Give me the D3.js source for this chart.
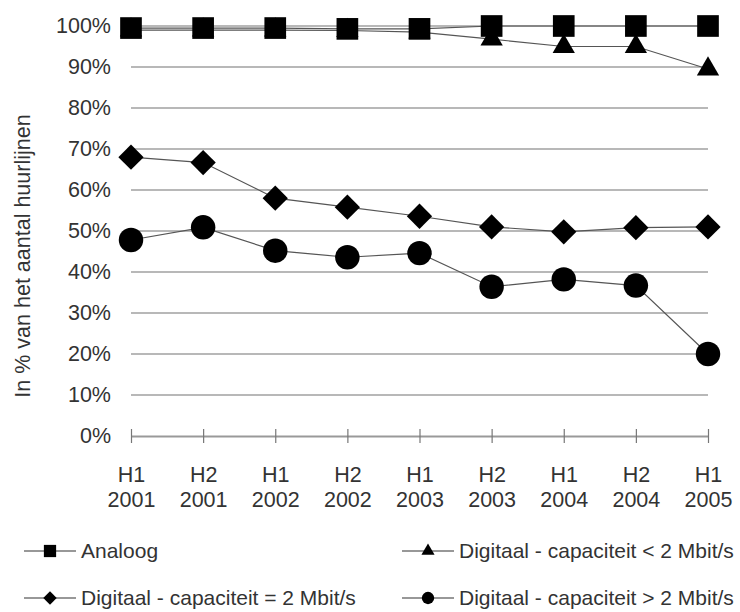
<!DOCTYPE html>
<html>
<head>
  <meta charset="utf-8">
  <title>Huurlijnen</title>
  <style>
    body { margin: 0; background: #fff; }
    text { font-family: "Liberation Sans", Arial, sans-serif; fill: #333; }
  </style>
</head>
<body>
  <div id="chart"></div>

  <script src="https://cdn.jsdelivr.net/npm/d3@7"></script>
  <script>
    // periods on the x axis (two text lines each)
    const periods = ['H1 2001', 'H2 2001', 'H1 2002', 'H2 2002', 'H1 2003',
                     'H2 2003', 'H1 2004', 'H2 2004', 'H1 2005'];

    // values in %
    const analoog   = [99.5, 99.5, 99.5, 99.3, 99.3, 100, 100, 100, 100];
    const digKlein  = [99, 99, 99, 98.9, 98.5, 96.8, 95, 95, 89.5];
    const digGelijk = [68, 66.7, 58, 55.8, 53.6, 51, 49.8, 50.8, 51];
    const digGroot  = [47.8, 50.9, 45.2, 43.6, 44.6, 36.4, 38.2, 36.7, 20];

    const yTicks = [0, 10, 20, 30, 40, 50, 60, 70, 80, 90, 100];

    const seriesNames = ['Analoog', 'Digitaal - capaciteit < 2 Mbit/s',
                         'Digitaal - capaciteit = 2 Mbit/s', 'Digitaal - capaciteit > 2 Mbit/s'];

    const svgWidth = 740, svgHeight = 612;
    const margin = {top: 26, right: 32, bottom: 176, left: 131};
    const width = svgWidth - margin.left - margin.right;
    const height = svgHeight - margin.top - margin.bottom;

    function translate(x, y) {
      return 'translate(' + x + ',' + y + ')';
    }

    const svg = d3.select('#chart')
      .append('svg')
        .attr('width', svgWidth)
        .attr('height', svgHeight);

    const g = svg.append('g').attr('transform', translate(margin.left, margin.top));

    const x = d3.scalePoint().domain(periods).range([0, width]);
    const y = d3.scaleLinear().domain([0, 100]).range([height, 0]);

    // gridlines
    g.selectAll('.grid')
      .data(yTicks.filter(d => d > 0))
      .enter().append('line')
        .attr('x1', 0).attr('x2', width)
        .attr('y1', d => y(d)).attr('y2', d => y(d))
        .attr('stroke', '#b8b8b8')
        .attr('stroke-width', 2);

    // y axis: labels only
    const yAxis = g.append('g')
      .call(d3.axisLeft(y).tickValues(yTicks).tickFormat(d => d + '%').tickSize(0).tickPadding(20));
    yAxis.select('.domain').remove();
    yAxis.selectAll('text')
      .attr('font-size', 21.5)
      .attr('font-family', '"Liberation Sans", Arial, sans-serif')
      .attr('fill', '#333');

    // x axis
    const xAxis = g.append('g')
      .attr('transform', translate(0, height))
      .call(d3.axisBottom(x).tickSize(0).tickFormat(''));
    xAxis.select('.domain').attr('stroke', '#999').attr('stroke-width', 2);
    xAxis.selectAll('.tick line').remove();
    xAxis.selectAll('.tick').append('line')
      .attr('y1', -7).attr('y2', 7)
      .attr('stroke', '#777').attr('stroke-width', 1.2);
    xAxis.selectAll('.tick').each(function (d) {
      const parts = d.split(' ');
      const t = d3.select(this).append('text')
        .attr('text-anchor', 'middle')
        .attr('font-size', 21.5)
        .attr('fill', '#333');
      t.append('tspan').attr('x', 0).attr('y', 46).text(parts[0]);
      t.append('tspan').attr('x', 0).attr('y', 71).text(parts[1]);
    });

    // y axis title
    svg.append('text')
      .attr('transform', translate(30, 256) + ' rotate(-90)')
      .attr('text-anchor', 'middle')
      .attr('font-size', 21.5)
      .text('In % van het aantal huurlijnen');

    // marker shapes
    const shapes = [
      {type: d3.symbolSquare, size: 470, small: 150, rot: 0},
      {type: d3.symbolTriangle, size: 215, small: 75, rot: 0},
      {type: d3.symbolSquare, size: 320, small: 90, rot: 45},
      {type: d3.symbolCircle, size: 470, small: 120, rot: 0}
    ];
    const allSeries = [analoog, digKlein, digGelijk, digGroot];

    const line = d3.line()
      .x((d, i) => x(periods[i]))
      .y(d => y(d));

    allSeries.forEach(function (vals, k) {
      g.append('path')
        .datum(vals)
        .attr('fill', 'none')
        .attr('stroke', '#555')
        .attr('stroke-width', 1.2)
        .attr('d', line);
    });

    // triangles first, so the squares cover them where they overlap
    [1, 0, 2, 3].forEach(function (k) {
      g.selectAll('.m' + k)
        .data(allSeries[k])
        .enter().append('path')
          .attr('d', d3.symbol().type(shapes[k].type).size(shapes[k].size))
          .attr('transform', (d, i) => translate(x(periods[i]), y(d)) + ' rotate(' + shapes[k].rot + ')')
          .attr('fill', '#000');
    });

    // legend
    const legendPos = [[24, 551], [402, 551], [24, 598], [402, 598]];
    seriesNames.forEach(function (name, k) {
      const lg = svg.append('g').attr('transform', translate(legendPos[k][0], legendPos[k][1]));
      lg.append('line')
        .attr('x1', 0).attr('x2', 52)
        .attr('stroke', '#333').attr('stroke-width', 1.2);
      lg.append('path')
        .attr('d', d3.symbol().type(shapes[k].type).size(shapes[k].small))
        .attr('transform', translate(26, 0) + ' rotate(' + shapes[k].rot + ')')
        .attr('fill', '#000');
      lg.append('text')
        .attr('x', 57)
        .attr('dy', '0.35em')
        .attr('font-size', 21)
        .text(name);
    });
  </script>
</body>
</html>
